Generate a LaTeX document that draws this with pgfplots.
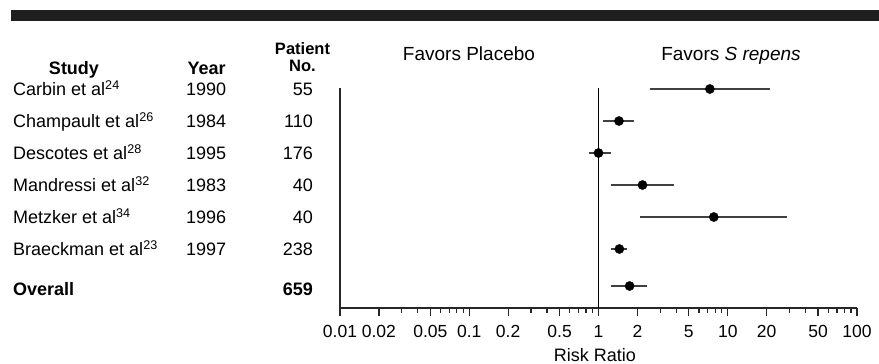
\documentclass[border=0pt]{standalone}
\usepackage{fontspec}
\setmainfont{Liberation Sans}
\usepackage{pgfplots}
\pgfplotsset{compat=1.18}
\begin{document}
\begin{tikzpicture}
\newcommand{\rowfont}{\fontsize{18}{20}\selectfont}
\path[use as bounding box] (0pt,0pt) rectangle (879pt,-364pt);
\fill[black!88] (11pt,-10pt) rectangle (879pt,-21pt);
\begin{axis}[
  at={(340pt,-308pt)}, anchor=south west,
  width=517pt, height=220pt, scale only axis,
  xmode=log, xmin=0.01, xmax=100, ymin=-308, ymax=-88,
  axis x line*=bottom, axis y line*=left,
  ytick=\empty,
  xtick={0.01,0.02,0.05,0.1,0.2,0.5,1,2,5,10,20,50,100},
  xticklabels={0.01,0.02,0.05,0.1,0.2,0.5,1,2,5,10,20,50,100},
  minor xtick={0.03,0.04,0.06,0.07,0.08,0.09,0.3,0.4,0.6,0.7,0.8,0.9,3,4,6,7,8,9,30,40,60,70,80,90},
  tick align=outside,
  major tick length=8pt, minor tick length=5pt,
  every tick/.style={black!85, line width=1.2pt},
  axis line style={black!85, line width=1.3pt},
  xticklabel style={font=\fontsize{17.5}{17.5}\selectfont, inner sep=1pt, yshift=-8pt},
  clip=false,
]
\addplot[black, line width=1.3pt] coordinates {(1,-308) (1,-88)};
\addplot[black!75, line width=1.3pt] coordinates {(2.49,-89) (21.4,-89)};
\addplot[black!75, line width=1.3pt] coordinates {(1.08,-121) (1.89,-121)};
\addplot[black!75, line width=1.3pt] coordinates {(0.84,-153) (1.24,-153)};
\addplot[black!75, line width=1.3pt] coordinates {(1.26,-185) (3.83,-185)};
\addplot[black!75, line width=1.3pt] coordinates {(2.09,-217) (28.8,-217)};
\addplot[black!75, line width=1.3pt] coordinates {(1.26,-249) (1.67,-249)};
\addplot[black!75, line width=1.3pt] coordinates {(1.25,-286) (2.38,-286)};
\addplot[only marks, mark=*, mark size=4.6pt, black] coordinates {
  (7.27,-89) (1.44,-121) (1.0,-153) (2.19,-185) (7.8,-217) (1.45,-249) (1.74,-286)};
\end{axis}
% header
\node[anchor=base, font=\fontsize{19}{20}\selectfont] at (469pt,-60pt) {Favors Placebo};
\node[anchor=base, font=\fontsize{19}{20}\selectfont] at (731pt,-60pt) {Favors \textit{S repens}};
\node[anchor=base, font=\rowfont\bfseries] at (74pt,-74pt) {Study};
\node[anchor=base west, font=\rowfont\bfseries, inner sep=0pt] at (187.5pt,-74pt) {Year};
\node[anchor=south, align=center, font=\fontsize{16.5}{17.5}\selectfont\bfseries, inner sep=0pt] at (302.5pt,-72pt) {Patient\\No.};
% rows
\foreach \name/\yr/\n/\yb in {
  Carbin et al\textsuperscript{24}/1990/55/95.3,
  Champault et al\textsuperscript{26}/1984/110/127.3,
  Descotes et al\textsuperscript{28}/1995/176/159.3,
  Mandressi et al\textsuperscript{32}/1983/40/191.3,
  Metzker et al\textsuperscript{34}/1996/40/223.3,
  Braeckman et al\textsuperscript{23}/1997/238/255.3}{
  \node[anchor=base west, font=\rowfont, inner sep=0pt] at (13pt,-\yb pt) {\name};
  \node[anchor=base west, font=\rowfont, inner sep=0pt] at (186pt,-\yb pt) {\yr};
  \node[anchor=base east, font=\rowfont, inner sep=0pt] at (313pt,-\yb pt) {\n};
}
\node[anchor=base west, font=\rowfont\bfseries, inner sep=0pt] at (13pt,-295pt) {Overall};
\node[anchor=base east, font=\rowfont\bfseries, inner sep=0pt] at (313pt,-295pt) {659};
\node[anchor=base, font=\fontsize{18}{18}\selectfont, inner sep=0pt] at (595pt,-361.5pt) {Risk Ratio};
\end{tikzpicture}
\end{document}
